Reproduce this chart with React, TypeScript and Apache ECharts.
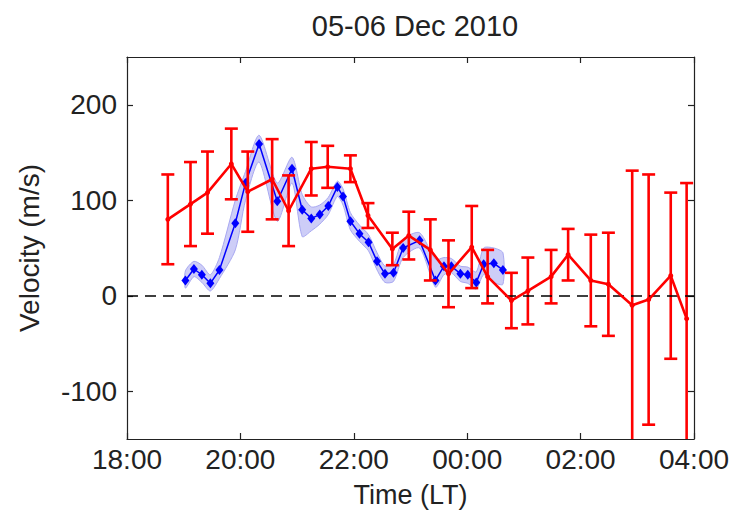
import React, { useEffect, useRef } from "react";
import * as echarts from "echarts";

// Hours since 18:00 LT
const redTimes = [0.72, 1.12, 1.42, 1.84, 2.13, 2.56, 2.85, 3.25, 3.54, 3.94, 4.25, 4.68, 4.97, 5.35, 5.67, 6.08, 6.36, 6.78, 7.07, 7.48, 7.78, 8.18, 8.49, 8.91, 9.2, 9.59, 9.87];
const redValues = [80, 96, 108, 138, 109, 122, 89, 133, 135, 133, 84, 49, 63, 48, 23, 51, 20, -5, 5, 20, 43, 16, 12, -10, -4, 21, -24];
const redErrors = [47, 44, 43, 37, 42, 42, 37, 28, 22, 14, 13, 17, 25, 32, 35, 43, 28, 29, 35, 28, 27, 48, 54, 141, 131, 87, 142];

const blueTimes = [1.03, 1.18, 1.32, 1.47, 1.63, 1.91, 2.09, 2.33, 2.65, 2.91, 3.09, 3.25, 3.4, 3.55, 3.71, 3.81, 3.94, 4.1, 4.26, 4.41, 4.55, 4.7, 4.87, 5.16, 5.44, 5.59, 5.72, 5.88, 6.01, 6.16, 6.29, 6.47, 6.63];
const blueValues = [16, 28, 22, 13, 27, 76, 118, 159, 99, 133, 90, 81, 85, 94, 114, 104, 78, 65, 56, 36, 23, 24, 50, 58, 16, 31, 31, 23, 22, 14, 33, 34, 27];
const bandLow = [8, 20, 14, 5, 18, 48, 100, 140, 78, 118, 62, 68, 75, 85, 104, 95, 69, 57, 47, 27, 14, 15, 40, 50, 9, 22, 24, 15, 13, 7, 22, 14, 12];
const bandHigh = [26, 36, 32, 22, 40, 100, 130, 168, 118, 145, 106, 93, 95, 103, 120, 112, 87, 74, 64, 45, 31, 33, 59, 66, 38, 40, 39, 31, 30, 25, 50, 50, 45];

const timeLabels = ["18:00", "20:00", "22:00", "00:00", "02:00", "04:00"];
const yTicks = [-100, 0, 100, 200];

const FONT = "'Liberation Sans', Arial, sans-serif";

export default function App() {
  const ref = useRef<HTMLDivElement>(null);
  useEffect(() => {
    if (!ref.current) return;
    const chart = echarts.init(ref.current, null, { renderer: "svg" });

    const redLine = redTimes.map((t, i) => [t, redValues[i]]);
    const errData = redTimes.map((t, i) => [t, redValues[i] - redErrors[i], redValues[i] + redErrors[i]]);
    const blueLine = blueTimes.map((t, i) => [t, blueValues[i]]);

    const axisLine = { show: true, onZero: false, lineStyle: { color: "#222", width: 1.2 } };
    const axisTick = { show: true, inside: true, length: 6, lineStyle: { color: "#222", width: 1.2 } };

    chart.setOption({
      animation: false,
      backgroundColor: "#fff",
      title: {
        text: "05-06 Dec 2010",
        left: 410,
        top: 6,
        textAlign: "center",
        textStyle: { fontFamily: FONT, fontSize: 29, fontWeight: "normal", color: "#222" },
      },
      grid: { left: 127, right: 43, top: 57, bottom: 74 },
      xAxis: [
        {
          type: "value",
          min: 0,
          max: 10,
          interval: 2,
          position: "bottom",
          name: "Time (LT)",
          nameLocation: "middle",
          nameGap: 42,
          nameTextStyle: { fontFamily: FONT, fontSize: 27, color: "#222" },
          axisLine,
          axisTick,
          splitLine: { show: false },
          axisLabel: {
            margin: 6,
            fontFamily: FONT,
            fontSize: 28,
            color: "#222",
            formatter: (v: number) => timeLabels[Math.round(v / 2)] ?? "",
          },
        },
        {
          type: "value",
          min: 0,
          max: 10,
          interval: 2,
          position: "top",
          axisLine,
          axisTick,
          splitLine: { show: false },
          axisLabel: { show: false },
        },
      ],
      yAxis: [
        {
          type: "value",
          min: -150,
          max: 250,
          position: "left",
          name: "Velocity (m/s)",
          nameLocation: "middle",
          nameGap: 84,
          nameTextStyle: { fontFamily: FONT, fontSize: 28, color: "#222" },
          axisLine,
          axisTick: { ...axisTick, customValues: yTicks },
          splitLine: { show: false },
          axisLabel: {
            margin: 10,
            fontFamily: FONT,
            fontSize: 28,
            color: "#222",
            customValues: yTicks,
          },
        },
        {
          type: "value",
          min: -150,
          max: 250,
          position: "right",
          axisLine,
          axisTick: { ...axisTick, customValues: yTicks },
          splitLine: { show: false },
          axisLabel: { show: false, customValues: yTicks },
        },
      ],
      series: [
        {
          name: "band",
          type: "custom",
          data: [[blueTimes[0], bandLow[0]]],
          encode: { x: 0, y: 1 },
          z: 1,
          silent: true,
          renderItem: (params: any, api: any) => {
            const upper = blueTimes.map((t, i) => api.coord([t, bandHigh[i]]));
            const lower = blueTimes.map((t, i) => api.coord([t, bandLow[i]])).reverse();
            const edge = { stroke: "#9a9af0", lineWidth: 1, fill: null };
            return {
              type: "group",
              children: [
                {
                  type: "polygon",
                  shape: { points: upper.concat(lower), smooth: 0.25 },
                  style: { fill: "#cdcdf7", stroke: "#a8a8f2", lineWidth: 1 },
                },
              ],
            };
          },
          markLine: {
            silent: true,
            symbol: "none",
            label: { show: false },
            lineStyle: { color: "#000", type: [11, 7], width: 1.5 },
            data: [{ yAxis: 0 }],
          },
        },
        {
          name: "blue",
          type: "line",
          data: blueLine,
          symbol: "diamond",
          symbolSize: [8, 10],
          itemStyle: { color: "#0000ff" },
          lineStyle: { color: "#0000ff", width: 1.5 },
          z: 3,
        },
        {
          name: "errors",
          type: "custom",
          data: errData,
          encode: { x: 0, y: [1, 2] },
          z: 4,
          renderItem: (params: any, api: any) => {
            const x = api.value(0);
            const lo = api.value(1);
            const hi = api.value(2);
            const cs = params.coordSys;
            const pLo = api.coord([x, lo]);
            const pHi = api.coord([x, hi]);
            const top = cs.y;
            const bottom = cs.y + cs.height;
            const style = { stroke: "#ff0000", lineWidth: 2.6 };
            const half = 6.5;
            const yHi = Math.max(pHi[1], top);
            const yLo = Math.min(pLo[1], bottom);
            const children: any[] = [
              { type: "line", shape: { x1: pLo[0], y1: yLo, x2: pHi[0], y2: yHi }, style },
            ];
            if (pHi[1] >= top) children.push({ type: "line", shape: { x1: pHi[0] - half, y1: pHi[1], x2: pHi[0] + half, y2: pHi[1] }, style });
            if (pLo[1] <= bottom) children.push({ type: "line", shape: { x1: pLo[0] - half, y1: pLo[1], x2: pLo[0] + half, y2: pLo[1] }, style });
            return { type: "group", children };
          },
        },
        {
          name: "red",
          type: "line",
          data: redLine,
          symbol: "circle",
          symbolSize: 5,
          itemStyle: { color: "#ff0000" },
          lineStyle: { color: "#ff0000", width: 2.6 },
          z: 5,
        },
      ],
    });
    return () => chart.dispose();
  }, []);

  return (
    <div
      ref={ref}
      style={{ position: "fixed", left: 0, top: 0, width: 737, height: 513, background: "#fff" }}
    />
  );
}
